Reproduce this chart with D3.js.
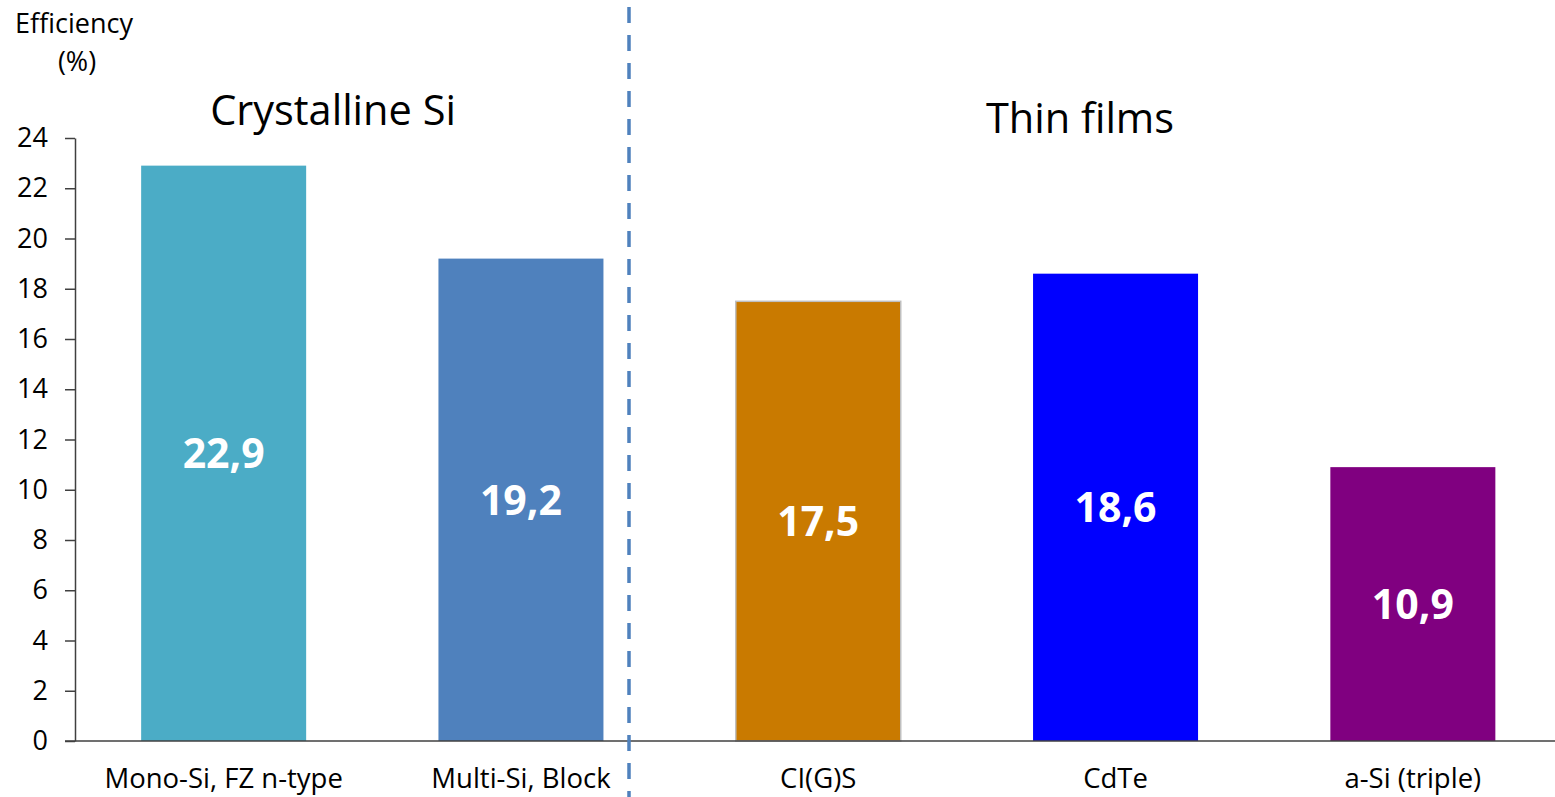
<!DOCTYPE html>
<html>
<head>
<meta charset="utf-8">
<script src="https://cdn.jsdelivr.net/npm/d3@7"></script>
<style>
  body { margin: 0; background: #fff; overflow: hidden; }
  text { font-family: "Open Sans", Lato, sans-serif; }
</style>
</head>
<body>
<script>
var categories = ["Mono-Si, FZ n-type", "Multi-Si, Block", "CI(G)S", "CdTe", "a-Si (triple)"];
var efficiency = [22.9, 19.2, 17.5, 18.6, 10.9];
var labels = ["22,9", "19,2", "17,5", "18,6", "10,9"];
var colors = ["#4bacc6", "#4f81bd", "#c97a00", "#0000ff", "#800080"];
var yTicks = [0, 2, 4, 6, 8, 10, 12, 14, 16, 18, 20, 22, 24];

var width = 1555,
    height = 797,
    margin = {left: 75, top: 138, bottom: 56};

var svg = d3.select("body").append("svg")
    .attr("width", width)
    .attr("height", height);

var x = d3.scaleBand()
    .domain(categories)
    .range([margin.left, margin.left + 5 * 297.3])
    .paddingInner(0.445)
    .paddingOuter(0.2225);

var y = d3.scaleLinear()
    .domain([0, 24])
    .range([height - margin.bottom, margin.top]);

// bars
svg.selectAll("rect.bar")
    .data(categories)
  .enter().append("rect")
    .attr("class", "bar")
    .attr("x", function(d) { return x(d); })
    .attr("width", x.bandwidth())
    .attr("y", function(d, i) { return y(efficiency[i]); })
    .attr("height", function(d, i) { return y(0) - y(efficiency[i]); })
    .style("fill", function(d, i) { return colors[i]; })
    .style("stroke", function(d, i) { return i == 2 ? "#bfbfbf" : "none"; })
    .style("stroke-width", 1.5);

// value labels
svg.selectAll("text.val")
    .data(categories)
  .enter().append("text")
    .attr("class", "val")
    .attr("x", function(d) { return x(d) + x.bandwidth() / 2; })
    .attr("y", function(d, i) { return (y(efficiency[i]) + y(0)) / 2; })
    .attr("dy", "0.36em")
    .attr("text-anchor", "middle")
    .style("fill", "#fff")
    .style("font-weight", "bold")
    .style("font-size", "41px")
    .text(function(d, i) { return labels[i]; });

// y axis
var yAxis = d3.axisLeft(y).tickValues(yTicks).tickSize(10).tickSizeOuter(0);
var gy = svg.append("g")
    .attr("transform", "translate(" + margin.left + ",0)")
    .call(yAxis);
gy.select(".domain").attr("stroke", "#404040").attr("stroke-width", 1.5);
gy.selectAll(".tick line").attr("stroke", "#404040").attr("stroke-width", 1.5);
gy.selectAll(".tick text")
    .attr("x", -27)
    .style("font-size", "27px")
    .style("fill", "#000");

// x axis line
svg.append("line")
    .attr("x1", margin.left - 10)
    .attr("x2", width)
    .attr("y1", y(0))
    .attr("y2", y(0))
    .attr("stroke", "#404040")
    .attr("stroke-width", 1.5);

// category labels
svg.selectAll("text.cat")
    .data(categories)
  .enter().append("text")
    .attr("class", "cat")
    .attr("x", function(d) { return x(d) + x.bandwidth() / 2; })
    .attr("y", 788)
    .attr("text-anchor", "middle")
    .style("font-size", "27.5px")
    .style("fill", "#000")
    .text(function(d) { return d; });

// dashed separator
svg.append("line")
    .attr("x1", 629)
    .attr("x2", 629)
    .attr("y1", 7)
    .attr("y2", height)
    .attr("stroke", "#4f81bd")
    .attr("stroke-width", 3.5)
    .attr("stroke-dasharray", "16,12");

// group titles
svg.append("text")
    .attr("x", 333)
    .attr("y", 125)
    .attr("text-anchor", "middle")
    .style("font-size", "41.5px")
    .text("Crystalline Si");

svg.append("text")
    .attr("x", 1080)
    .attr("y", 133)
    .attr("text-anchor", "middle")
    .style("font-size", "41.5px")
    .text("Thin films");

// y axis title
svg.append("text")
    .attr("x", 74)
    .attr("y", 33)
    .attr("text-anchor", "middle")
    .style("font-size", "27px")
    .text("Efficiency");
svg.append("text")
    .attr("x", 77)
    .attr("y", 71)
    .attr("text-anchor", "middle")
    .style("font-size", "27px")
    .text("(%)");
</script>
</body>
</html>
